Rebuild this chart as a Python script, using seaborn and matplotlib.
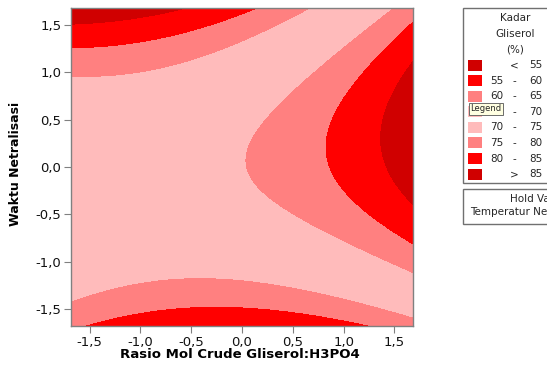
import numpy as np
import pandas as pd
import seaborn as sns
import matplotlib
matplotlib.use("Agg")
import matplotlib.pyplot as plt
from matplotlib.patches import Rectangle

sns.set_style("white")
plt.rcParams['font.family'] = ['DejaVu Sans']

# ---- data (estimated response-surface coefficients, coded units) ----
# Kadar Gliserol = b0 + b1*x + b2*y + b11*x^2 + b22*y^2 + b12*x*y
coef_names = ["b0", "b1", "b2", "b11", "b22", "b12"]
coef_values = [74.80, 4.274, 0.783, 2.041, -6.224, 2.197]
axis_limit = 1.682
contour_levels = [55, 60, 65, 70, 75, 80, 85]
level_colors = ['#D00000', '#FF0000', '#FF8080', '#FFBBBB',
                '#FFBBBB', '#FF8080', '#FF0000', '#D00000']
legend_left = ["", "55", "60", "65", "70", "75", "80", ""]
legend_mid = ["<", "-", "-", "-", "-", "-", "-", ">"]
legend_right = ["55", "60", "65", "70", "75", "80", "85", "85"]
tick_values = [-1.5, -1.0, -0.5, 0.0, 0.5, 1.0, 1.5]
tick_labels = ["-1,5", "-1,0", "-0,5", "0,0", "0,5", "1,0", "1,5"]
x_label = "Rasio Mol Crude Gliserol:H3PO4"
y_label = "Waktu Netralisasi"
legend_title = ["Kadar", "Gliserol", "(%)"]
hold_lines = ["Hold Values", "Temperatur Netralisasi  0"]

W, H = 547, 368
fig = plt.figure(figsize=(W/100, H/100), dpi=100)

def fx(px):
    return px / W

def fy(py):
    return 1 - py / H

ax = fig.add_axes([fx(71), fy(326), (413 - 71) / W, (326 - 8) / H])
b = dict(zip(coef_names, coef_values))
g = np.linspace(-axis_limit, axis_limit, 400)
X, Y = np.meshgrid(g, g)
Z = (b["b0"] + b["b1"] * X + b["b2"] * Y + b["b11"] * X * X
     + b["b22"] * Y * Y + b["b12"] * X * Y)
levels = [-1e9] + contour_levels + [1e9]
ax.contourf(X, Y, Z, levels=levels, colors=level_colors, antialiased=False)
ax.set_xlim(-axis_limit, axis_limit)
ax.set_ylim(-axis_limit, axis_limit)
ax.set_xticks(tick_values); ax.set_xticklabels(tick_labels)
ax.set_yticks(tick_values); ax.set_yticklabels(tick_labels)
ax.tick_params(axis='both', direction='out', length=5, width=0.8, color='#808080',
               labelsize=9.5, labelcolor='#111111', pad=2, bottom=True, left=True)
for s in ax.spines.values():
    s.set_color('#808080'); s.set_linewidth(1)

fig.text(fx(240), fy(355), x_label, fontsize=9.5, fontweight='bold',
         ha='center', va='center', color='#000000')
fig.text(fx(16), fy(164), y_label, fontsize=9, fontweight='bold',
         ha='center', va='center', rotation=90, color='#000000')

# ---- legend box ----
fig.patches.append(Rectangle((fx(463), fy(183)), (600 - 463) / W, (183 - 8) / H,
                             transform=fig.transFigure, facecolor='white',
                             edgecolor='#707070', linewidth=1))
fig.patches.append(Rectangle((fx(463), fy(224)), (600 - 463) / W, (224 - 189) / H,
                             transform=fig.transFigure, facecolor='white',
                             edgecolor='#707070', linewidth=1))
for t, py in zip(legend_title, [18, 34, 50]):
    fig.text(fx(515), fy(py), t, fontsize=7.5, ha='center', va='center')
for i, (c, l, m, r) in enumerate(zip(level_colors, legend_left, legend_mid, legend_right)):
    py = 65 + 15.6 * i
    fig.patches.append(Rectangle((fx(468), fy(py + 5.5)), 14 / W, 11 / H,
                                 transform=fig.transFigure, facecolor=c,
                                 edgecolor='none'))
    if l:
        fig.text(fx(503), fy(py), l, fontsize=7.5, ha='right', va='center')
    fig.text(fx(514), fy(py), m, fontsize=7.5, ha='center', va='center')
    fig.text(fx(542), fy(py), r, fontsize=7.5, ha='right', va='center')
fig.text(fx(510), fy(199), hold_lines[0], fontsize=7.5, ha='left', va='center')
fig.text(fx(470), fy(212), hold_lines[1], fontsize=7.5, ha='left', va='center')

# tooltip shown over the legend
fig.patches.append(Rectangle((fx(469), fy(114.5)), 34 / W, 12 / H,
                             transform=fig.transFigure, facecolor='#FFFFE1',
                             edgecolor='#555555', linewidth=0.6, zorder=5))
fig.text(fx(486), fy(108.5), "Legend", fontsize=6, ha='center', va='center', zorder=6)

fig.savefig("out.png", dpi=100)
